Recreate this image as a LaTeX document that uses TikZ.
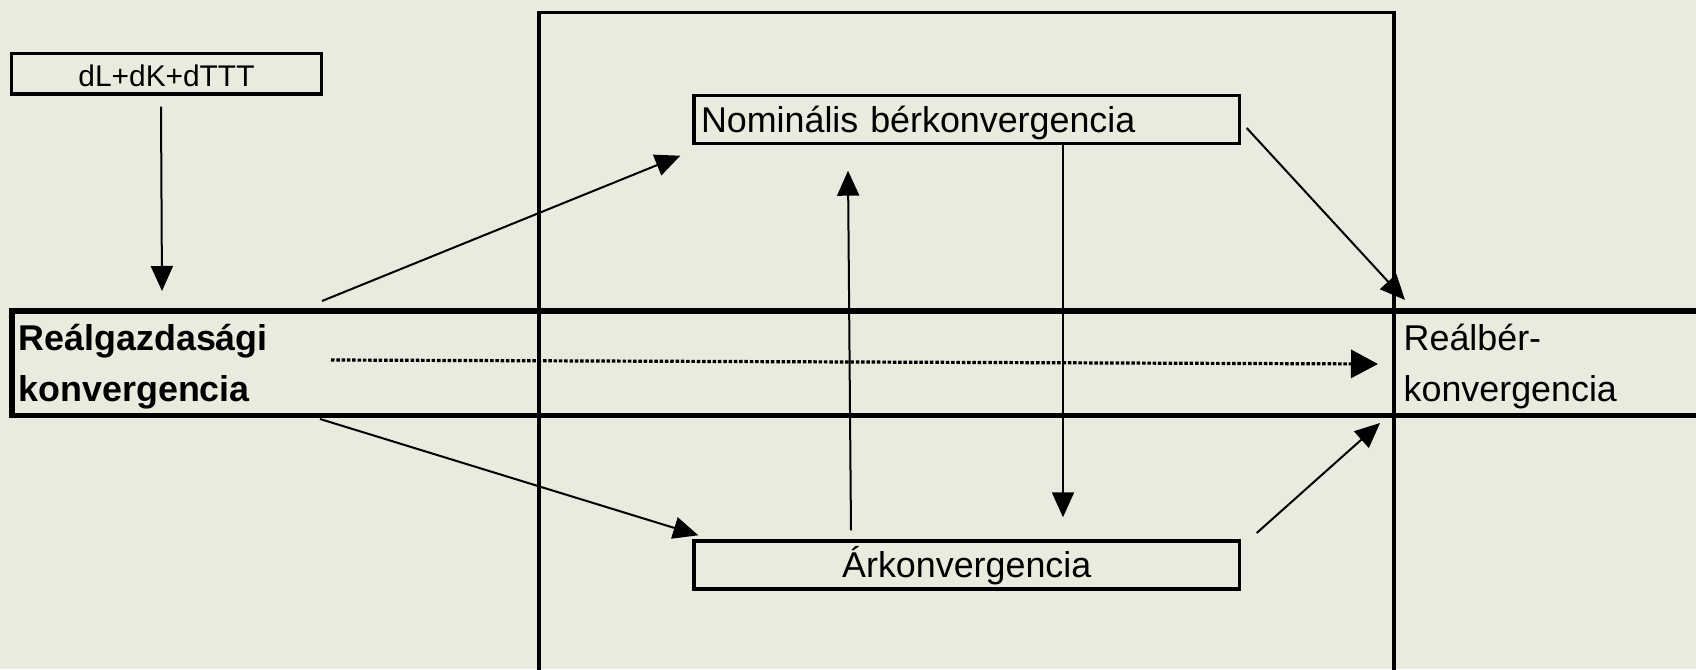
\documentclass[tikz,border=0pt]{standalone}
\usepackage{fontspec}
\setmainfont{Liberation Sans}
\usetikzlibrary{positioning, arrows.meta}

\begin{document}
\begin{tikzpicture}

% Define colors
\definecolor{fondo}{RGB}{234,234,222}

\tikzset{
  caja/.style={draw, line width=0.034cm, inner ysep=0pt, text height=0.9em, text depth=0.18em,
    font=\fontsize{10.2pt}{14.5pt}\selectfont},
  texto/.style={inner sep=0pt, align=left, font=\fontsize{10.2pt}{14.5pt}\selectfont},
  flecha/.style={line width=0.02cm, -{Triangle[length=0.25cm, width=0.22cm]}},
  punteada/.style={line width=0.032cm, dash pattern=on 0.035cm off 0.018cm,
    -{Triangle[length=0.27cm, width=0.28cm]}}
}

% Background and size of the page
\useasboundingbox (0,0) rectangle (16.96,6.69);
\fill[fondo] (0,0) rectangle (16.96,6.69);
\clip (0,0) rectangle (16.96,6.69);

% Draw the open frame
\draw[line width=0.038cm] (5.39,-0.2) -- (5.39,6.565) -- (13.94,6.565) -- (13.94,-0.2);

% Draw the horizontal band
\draw[line width=0.055cm] (17.5,3.58) -- (0.12,3.58) -- (0.12,2.535) -- (17.5,2.535);

% Boxes
\node[caja, inner xsep=0pt, minimum width=3.1cm, minimum height=0.405cm,
  font=\fontsize{8.5pt}{10pt}\selectfont] (dl) at (1.665,5.9525) {dL+dK+dTTT};

\node[caja, inner xsep=0.07cm, text width=5.315cm, align=left, minimum height=0.48cm]
  (nom) at (9.6675,5.495) {Nominális bérkonvergencia};

\node[caja, inner xsep=0pt, minimum width=5.455cm, minimum height=0.48cm]
  (ar) at (9.6675,1.04) {Árkonvergencia\hspace{0.1cm}};

% Labels in the band
\node[texto, anchor=west, font=\fontsize{10.2pt}{14.5pt}\selectfont\bfseries]
  (real) at (0.18,3.025) {Reálgazdasági\\konvergencia};

\node[texto, anchor=west] (realber) at (14.03,3.025) {Reálbér-\\konvergencia};

% Arrows
\draw[flecha] ([shift={(-0.055,-0.11)}]dl.south) -- ([shift={(1.44,0.755)}]real.west);

\draw[flecha] ([shift={(3.04,0.655)}]real.west) -- ([shift={(-0.12,-0.105)}]nom.south west);
\draw[flecha] ([shift={(3.02,-0.525)}]real.west) -- ([shift={(0.06,0.04)}]ar.north west);

\draw[flecha] ([shift={(-1.1575,0.09)}]ar.north) -- ([shift={(-1.1875,-0.255)}]nom.south);
\draw[flecha] ([xshift=0.9625cm]nom.south) -- ([shift={(0.9625,0.22)}]ar.north);

\draw[flecha] ([shift={(0.055,-0.085)}]nom.east) -- ([shift={(0.02,0.665)}]realber.west);
\draw[flecha] ([shift={(0.155,0.32)}]ar.east) -- ([shift={(-0.23,-0.565)}]realber.west);

\draw[punteada] ([shift={(3.13,0.065)}]real.west) -- ([shift={(-0.25,0.025)}]realber.west);

\end{tikzpicture}
\end{document}
